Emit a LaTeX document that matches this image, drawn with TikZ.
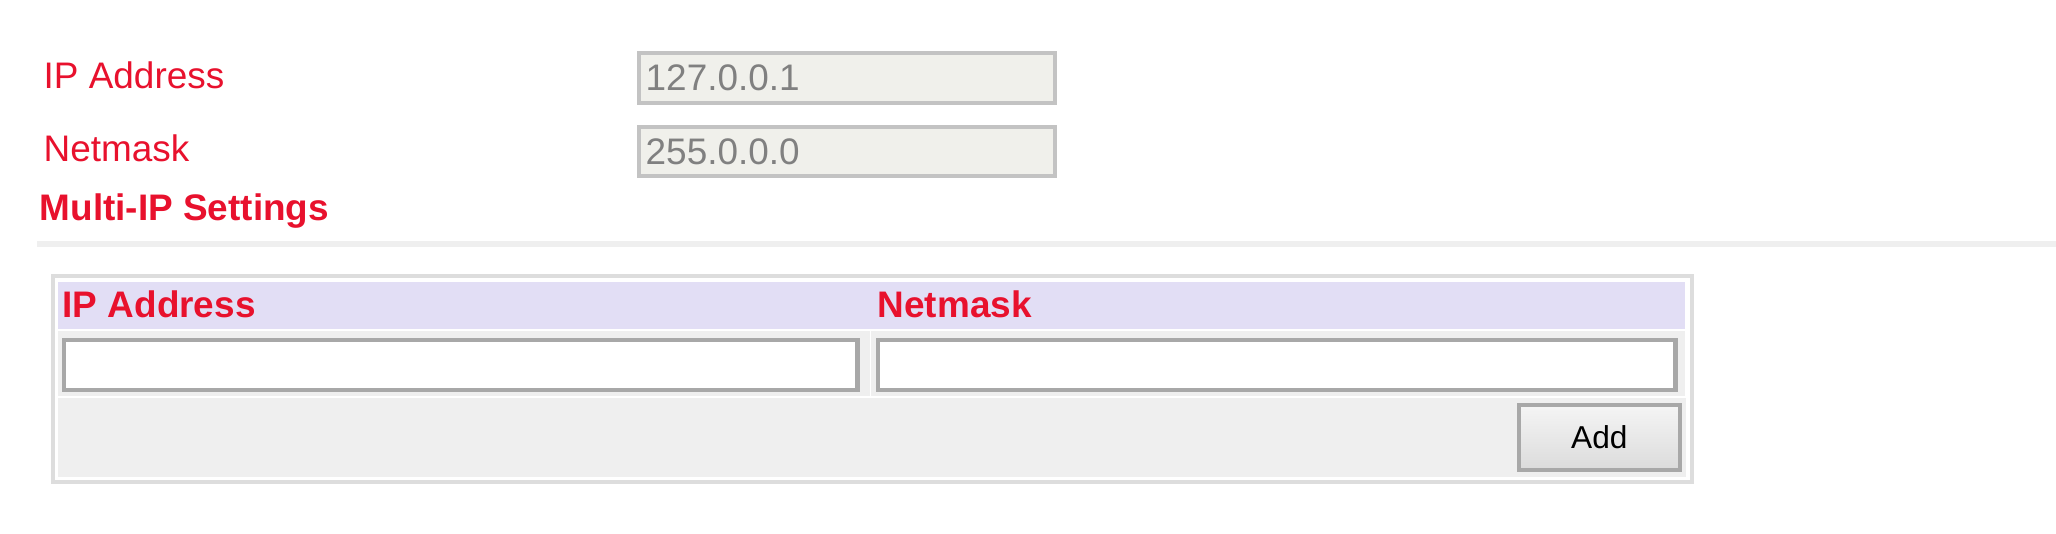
\documentclass[tikz,border=0pt]{standalone}
\usepackage{fontspec}
\setmainfont{Liberation Sans}
\usetikzlibrary{positioning}
\definecolor{labelred}{HTML}{E8112D}
\definecolor{ghostfill}{HTML}{F0F0EB}
\definecolor{ghostline}{HTML}{C3C3C3}
\definecolor{headfill}{HTML}{E2DEF5}
\definecolor{panelfill}{HTML}{EFEFEF}
\definecolor{panelline}{HTML}{DDDDDD}
\definecolor{fieldline}{HTML}{A8A8A8}
\tikzset{
  lbl/.style={anchor=west, inner sep=0pt, text=labelred, font=\fontsize{10.5}{12}\selectfont},
  headlbl/.style={lbl, font=\fontsize{10.5}{12}\selectfont\bfseries},
  ghostbox/.style={anchor=north west, draw=ghostline, line width=1.2pt, fill=ghostfill, inner sep=0pt},
  fieldbox/.style={anchor=north west, draw=fieldline, line width=1.2pt, fill=white, inner sep=0pt},
  cellbox/.style={anchor=north west, inner sep=0pt, draw=none}
}
\begin{document}
\begin{tikzpicture}[x=0.01cm, y=-0.01cm]
  \useasboundingbox (0,0) rectangle (2056,534);
  \fill[white] (0,0) rectangle (2056,534);

  % Upper settings
  \node[lbl] (ipl) at (43,75) {IP Address};
  \node[lbl] (nml) at (43,148) {Netmask};
  \node[ghostbox, minimum width=4.16cm, minimum height=0.5cm] (ipbox) at (637,51) {};
  \node[ghostbox, minimum width=4.16cm, minimum height=0.49cm] (nmbox) at (637,125) {};
  \node[lbl, text=gray, right=0.08cm of ipbox.west] (ipval) {127.0.0.1};
  \node[lbl, text=gray, right=0.08cm of nmbox.west] (nmval) {255.0.0.0};

  % Multi-IP section
  \node[headlbl] (multi) at (39,211) {Multi-IP Settings};
  \draw[panelfill, line width=1.5pt] (37,244) -- (2056,244);

  % Table
  \node[cellbox, draw=panelline, line width=1.2pt, fill=white, minimum width=16.38cm, minimum height=2.06cm] (tbl) at (51,274) {};
  \node[cellbox, fill=headfill, minimum width=8.14cm, minimum height=0.47cm] (hip) at (57,281) {};
  \node[cellbox, fill=headfill, minimum width=8.14cm, minimum height=0.47cm] (hnm) at (870,281) {};
  \node[headlbl] (hipt) at (62,304) {IP Address};
  \node[headlbl] (hnmt) at (877,304) {Netmask};
  \node[cellbox, fill=panelfill, minimum width=8.12cm, minimum height=0.65cm] (rip) at (57,330) {};
  \node[cellbox, fill=panelfill, minimum width=8.14cm, minimum height=0.65cm] (rnm) at (870,330) {};
  \node[fieldbox, minimum width=7.93cm, minimum height=0.50cm] (fip) at (62,338) {};
  \node[fieldbox, minimum width=7.97cm, minimum height=0.50cm] (fnm) at (876,338) {};
  \node[cellbox, fill=panelfill, minimum width=16.27cm, minimum height=0.79cm] (foot) at (57,397) {};
  \node[cellbox, draw=fieldline, line width=1pt, top color=white!96!black, bottom color=white!86!black,
        minimum width=1.61cm, minimum height=0.65cm, font=\fontsize{9}{11}\selectfont] (addbtn) at (1517,403) {Add};
\end{tikzpicture}
\end{document}
